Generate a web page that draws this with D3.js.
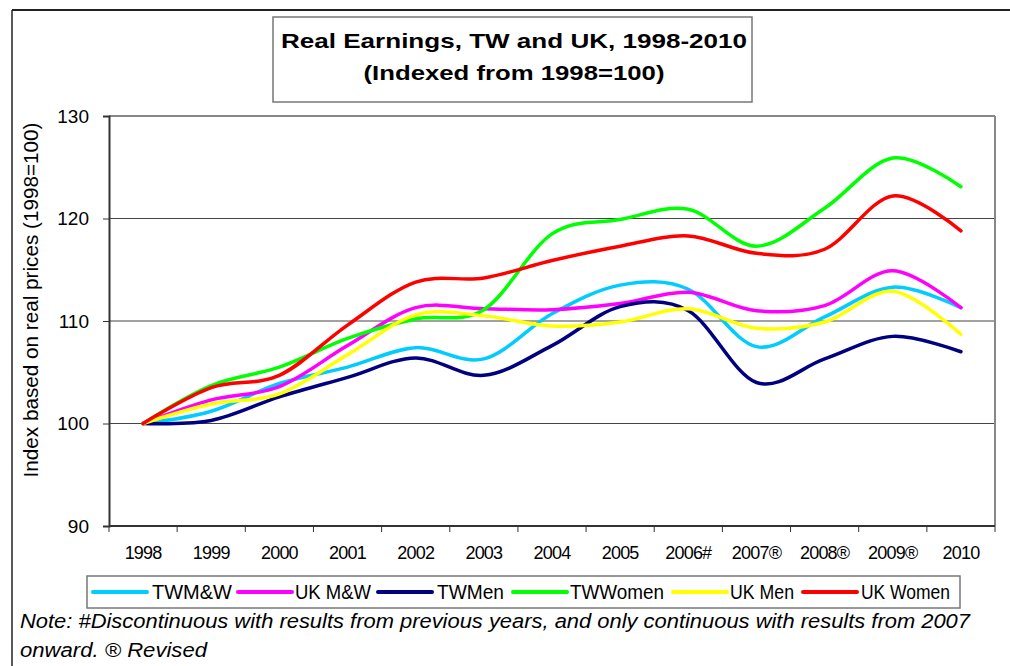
<!DOCTYPE html>
<html>
<head>
<meta charset="utf-8">
<script src="https://cdn.jsdelivr.net/npm/d3@7"></script>
<style>
  html, body { margin: 0; padding: 0; background: #fff; }
  svg { display: block; font-family: "Liberation Sans", Arial, sans-serif; }
</style>
</head>
<body>
<svg id="chart" width="1010" height="666"></svg>
<script>
// ---- Data ----
const years = ["1998","1999","2000","2001","2002","2003","2004","2005","2006#","2007®","2008®","2009®","2010"];
const twMW    = [100, 101.2, 103.9, 105.5, 107.4, 106.3, 110.7, 113.5, 113.1, 107.5, 110.4, 113.3, 111.3];
const ukMW    = [100, 102.3, 103.6, 107.6, 111.3, 111.2, 111.1, 111.7, 112.8, 111.0, 111.5, 114.9, 111.3];
const twMen   = [100, 100.3, 102.6, 104.5, 106.4, 104.7, 107.6, 111.4, 111.0, 104.0, 106.3, 108.5, 107.0];
const twWomen = [100, 103.7, 105.5, 108.3, 110.2, 111.1, 118.5, 119.9, 120.9, 117.3, 121.0, 125.9, 123.1];
const ukMen   = [100, 101.9, 102.9, 106.7, 110.6, 110.5, 109.5, 109.9, 111.2, 109.3, 109.9, 112.9, 108.7];
const ukWomen = [100, 103.5, 104.7, 109.6, 113.8, 114.2, 115.9, 117.3, 118.3, 116.6, 117.0, 122.2, 118.8];
const seriesNames  = ["TWM&W", "UK M&W", "TWMen", "TWWomen", "UK Men", "UK Women"];
const seriesColors = ["#00CCFF", "#FF00FF", "#000080", "#00FF00", "#FFFF00", "#FF0000"];
const seriesValues = [twMW, ukMW, twMen, twWomen, ukMen, ukWomen];
const yTicks = [90, 100, 110, 120, 130];
const titleLines = ["Real Earnings, TW and UK, 1998-2010", "(Indexed from 1998=100)"];
const yTitle = "Index based on real prices  (1998=100)";
const noteLines = ["Note: #Discontinuous with results from previous years, and only continuous with results from 2007",
                   "onward.  \u00AE Revised"];

// ---- Layout ----
const svg = d3.select("#chart");
const L = 109, R = 995, T = 116, B = 526;

svg.append("rect").attr("width", 1010).attr("height", 666).attr("fill", "#fff");

// outer chart border (top and left visible)
svg.append("line").attr("x1", 12).attr("x2", 1010).attr("y1", 10).attr("y2", 10)
  .attr("stroke", "#222").attr("stroke-width", 2);
svg.append("line").attr("x1", 12).attr("x2", 12).attr("y1", 10).attr("y2", 666)
  .attr("stroke", "#222").attr("stroke-width", 1.5);

// scales
const x = d3.scaleBand().domain(years).range([L, R]).padding(0);
const y = d3.scaleLinear().domain([90, 130]).range([B, T]);
const cx = d => x(d) + x.bandwidth() / 2;

// gridlines
svg.append("g").selectAll("line").data(yTicks.filter(v => v > 90 && v < 130)).join("line")
  .attr("x1", L).attr("x2", R).attr("y1", d => y(d)).attr("y2", d => y(d))
  .attr("stroke", "#444").attr("stroke-width", 1);

// plot border top/right (gray)
svg.append("line").attr("x1", L).attr("x2", R).attr("y1", T).attr("y2", T)
  .attr("stroke", "#888").attr("stroke-width", 2);
svg.append("line").attr("x1", R).attr("x2", R).attr("y1", T).attr("y2", B)
  .attr("stroke", "#888").attr("stroke-width", 2);

// y axis
const yAxis = svg.append("g").attr("transform", `translate(${L},0)`)
  .call(d3.axisLeft(y).tickValues(yTicks).tickSize(6).tickPadding(14).tickFormat(d3.format("d")));
yAxis.select(".domain").attr("stroke", "#333").attr("stroke-width", 2);
yAxis.selectAll(".tick line").attr("stroke", "#333");
yAxis.selectAll(".tick text").attr("font-size", 19).attr("fill", "#000")
  .attr("font-family", "Liberation Sans, Arial, sans-serif");

// x axis (labels at band centres, ticks at band edges)
const xAxis = svg.append("g").attr("transform", `translate(0,${B})`)
  .call(d3.axisBottom(x).tickSize(0).tickPadding(0));
xAxis.select(".domain").remove();
xAxis.selectAll(".tick text").attr("font-size", 18).attr("fill", "#000")
  .attr("font-family", "Liberation Sans, Arial, sans-serif")
  .attr("letter-spacing", "-0.8px")
  .attr("y", 33).attr("dy", 0);
svg.append("line").attr("x1", L).attr("x2", R).attr("y1", B).attr("y2", B)
  .attr("stroke", "#333").attr("stroke-width", 2);
const edges = years.map(d => x(d)).concat([x.range()[1]]);
svg.append("g").selectAll("line").data(edges).join("line")
  .attr("x1", d => d).attr("x2", d => d).attr("y1", B).attr("y2", B + 6)
  .attr("stroke", "#333").attr("stroke-width", 1);

// y title
svg.append("text")
  .attr("transform", "translate(38,300) rotate(-90)")
  .attr("text-anchor", "middle")
  .attr("font-size", 20)
  .attr("textLength", 355).attr("lengthAdjust", "spacingAndGlyphs")
  .text(yTitle);

// lines
const line = d3.line()
  .x((v, i) => cx(years[i]))
  .y(v => y(v))
  .curve(d3.curveCardinal.tension(0));
svg.append("g").selectAll("path").data(seriesValues).join("path")
  .attr("d", d => line(d))
  .attr("fill", "none")
  .attr("stroke", (d, i) => seriesColors[i])
  .attr("stroke-width", 3.5)
  .attr("stroke-linejoin", "round")
  .attr("stroke-linecap", "round");

// title box
svg.append("rect").attr("x", 273).attr("y", 17).attr("width", 479).attr("height", 85)
  .attr("fill", "#fff").attr("stroke", "#777").attr("stroke-width", 1.5);
const titleW = [466, 301];
const titleY = [48, 80];
titleLines.forEach((t, i) => {
  svg.append("text").attr("x", 514).attr("y", titleY[i])
    .attr("text-anchor", "middle").attr("font-weight", "bold").attr("font-size", 21)
    .attr("textLength", titleW[i]).attr("lengthAdjust", "spacingAndGlyphs")
    .text(t);
});

// legend
svg.append("rect").attr("x", 87).attr("y", 576).attr("width", 873).attr("height", 32)
  .attr("fill", "#fff").attr("stroke", "#777").attr("stroke-width", 1.5);
const legX = [93, 238, 378, 513, 673, 803];
const legTextX = [152, 295, 437, 570, 730, 861];
const legTextW = [80, 76, 67, 94, 64, 89];
seriesNames.forEach((n, i) => {
  svg.append("line").attr("x1", legX[i]).attr("x2", legX[i] + 54).attr("y1", 592).attr("y2", 592)
    .attr("stroke", seriesColors[i]).attr("stroke-width", 4).attr("stroke-linecap", "round");
  svg.append("text").attr("x", legTextX[i]).attr("y", 598.5)
    .attr("font-size", 20).attr("textLength", legTextW[i]).attr("lengthAdjust", "spacingAndGlyphs")
    .text(n);
});

// note
const noteY = [628, 657];
const noteW = [950, 187];
noteLines.forEach((t, i) => {
  svg.append("text").attr("x", 20).attr("y", noteY[i])
    .attr("font-size", 20).attr("font-style", "italic")
    .attr("textLength", noteW[i]).attr("lengthAdjust", "spacingAndGlyphs")
    .text(t);
});
</script>
</body>
</html>
